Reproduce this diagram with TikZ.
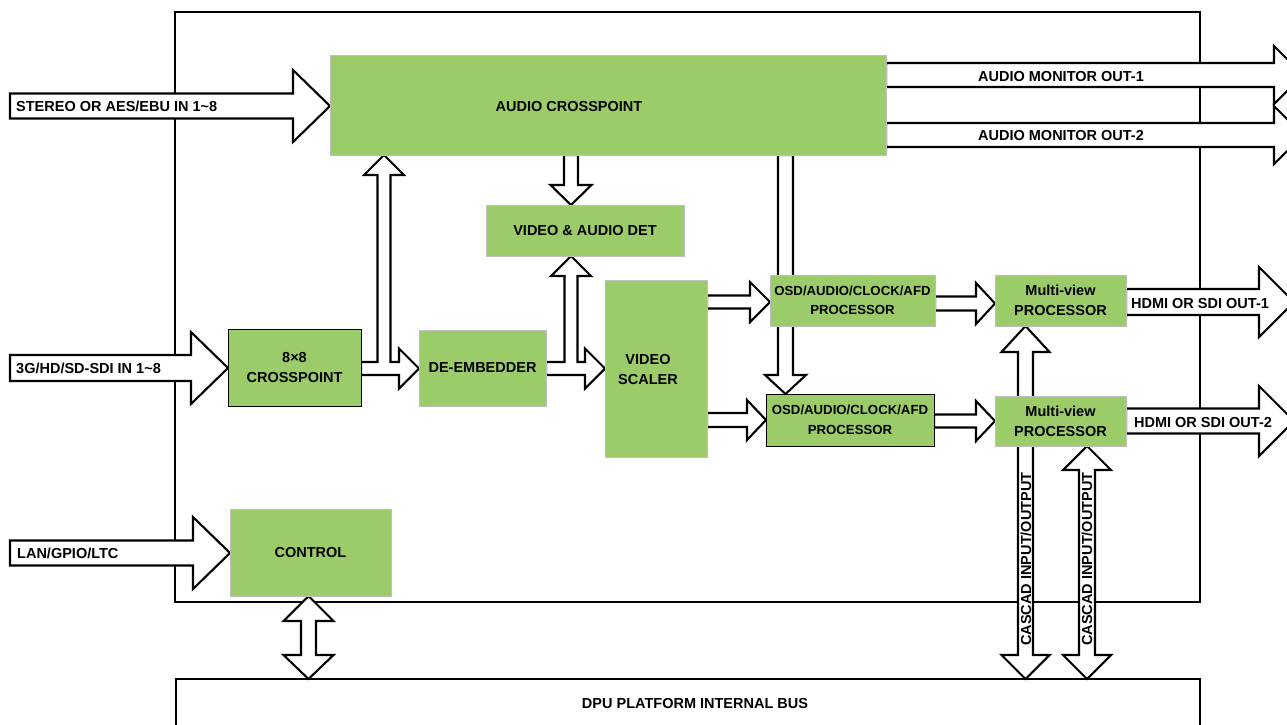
\documentclass[tikz,border=0pt]{standalone}
\usepackage{fontspec}
\setmainfont{Liberation Sans}
\usetikzlibrary{calc}
\definecolor{boxgreen}{RGB}{155,204,105}
\newcommand\diafont{\bfseries\fontsize{14.5}{20}\selectfont}
\newcommand\diafontsm{\bfseries\fontsize{13.2}{19.5}\selectfont}
\pgfdeclarelayer{back}
\pgfdeclarelayer{mid}
\pgfsetlayers{back,mid,main}
\tikzset{
  gbox/.style={fill=boxgreen, draw=black!25, line width=0.4pt, inner sep=0pt, outer sep=0pt, align=center, font=\diafont},
  gboxk/.style={gbox, draw=black, line width=0.8pt},
  blk/.style={draw=black, fill=white, line width=2.1pt, line join=miter},
  lbl/.style={font=\diafont, inner sep=0pt, text height=10.4pt, text depth=0pt},
  frm/.style={draw=black, line width=2pt, inner sep=0pt, outer sep=0pt},
}
% right arrow: tail, tip, body half, head half, head length
\newcommand\RArrow[5]{%
  \path[blk] let \p1=#1, \p2=#2 in (\x1,\y2+#3pt) -- (\x2-#5pt,\y2+#3pt) -- (\x2-#5pt,\y2+#4pt) -- (\x2,\y2) -- (\x2-#5pt,\y2-#4pt) -- (\x2-#5pt,\y2-#3pt) -- (\x1,\y2-#3pt) -- cycle;}
% down arrow: tail (top), tip (bottom), body half, head half, head length
\newcommand\DArrow[5]{%
  \path[blk] let \p1=#1, \p2=#2 in (\x2-#3pt,\y1) -- (\x2-#3pt,\y2+#5pt) -- (\x2-#4pt,\y2+#5pt) -- (\x2,\y2) -- (\x2+#4pt,\y2+#5pt) -- (\x2+#3pt,\y2+#5pt) -- (\x2+#3pt,\y1) -- cycle;}
% vertical double arrow: top tip, bottom tip, body half, head half, top len, bottom len
\newcommand\VDArrow[6]{%
  \path[blk] let \p1=#1, \p2=#2 in (\x1,\y1) -- (\x1+#4pt,\y1-#5pt) -- (\x1+#3pt,\y1-#5pt) -- (\x1+#3pt,\y2+#6pt) -- (\x1+#4pt,\y2+#6pt) -- (\x1,\y2) -- (\x1-#4pt,\y2+#6pt) -- (\x1-#3pt,\y2+#6pt) -- (\x1-#3pt,\y1-#5pt) -- (\x1-#4pt,\y1-#5pt) -- cycle;}
% T arrow: tail (left), right tip, top tip, body half, head half, head length
\newcommand\TArrow[6]{%
  \path[blk] let \p1=#1, \p2=#2, \p3=#3 in (\x1,\y2+#4pt) -- (\x3-#4pt,\y2+#4pt) -- (\x3-#4pt,\y3-#6pt) -- (\x3-#5pt,\y3-#6pt) -- (\x3,\y3) -- (\x3+#5pt,\y3-#6pt) -- (\x3+#4pt,\y3-#6pt) -- (\x3+#4pt,\y2+#4pt) -- (\x2-#6pt,\y2+#4pt) -- (\x2-#6pt,\y2+#5pt) -- (\x2,\y2) -- (\x2-#6pt,\y2-#5pt) -- (\x2-#6pt,\y2-#4pt) -- (\x1,\y2-#4pt) -- cycle;}
\begin{document}
\begin{tikzpicture}[x=1pt,y=-1pt]
\useasboundingbox (0,0) rectangle (1287,724);
\clip (0,0) rectangle (1287,724);

% boxes (main layer)
\node[gbox, minimum width=556pt, minimum height=100pt] (audio) at (608,105) {};
\node[gbox, minimum width=198pt, minimum height=51pt] (det) at (585,230.5) {VIDEO \& AUDIO DET};
\node[gboxk, minimum width=133pt, minimum height=77pt] (xp) at (294.5,367.5) {8×8\\CROSSPOINT};
\node[gbox, minimum width=127pt, minimum height=76pt] (deemb) at (482.5,368) {DE-EMBEDDER};
\node[gbox, minimum width=102pt, minimum height=177pt] (scaler) at (656,368.5) {};
\node[gbox, font=\diafontsm, minimum width=165pt, minimum height=51pt] (osd1) at (852.5,300.5) {OSD/AUDIO/CLOCK/AFD\\PROCESSOR};
\node[gboxk, font=\diafontsm, minimum width=168pt, minimum height=52pt] (osd2) at (850,420) {OSD/AUDIO/CLOCK/AFD\\PROCESSOR};
\node[gbox, minimum width=131pt, minimum height=51pt] (mv1) at (1060.5,300.5) {Multi-view\\PROCESSOR};
\node[gbox, minimum width=131pt, minimum height=50pt] (mv2) at (1060.5,421) {Multi-view\\PROCESSOR};
\node[gbox, minimum width=161pt, minimum height=87pt] (control) at (310.5,552.5) {CONTROL};
\node[lbl] (audlbl) at (569,106) {AUDIO CROSSPOINT};
\node[gbox, fill=none, draw=none, align=center] (sclbl) at (648,369) {VIDEO\\SCALER};

% free ends
\coordinate (stin) at (10,106);
\coordinate (sdiin) at (10,368);
\coordinate (lanin) at (10,553);
\coordinate (amo1) at (1303,75);
\coordinate (amo2) at (1303,135);
\coordinate (hdmi1) at (1294,302);
\coordinate (hdmi2) at (1294,421);
\coordinate (t1) at (384,368.5);
\coordinate (t2) at (571,368.5);
\coordinate (dA) at (571,186);
\coordinate (dB) at (785.5,375);
\coordinate (cb) at (308.5,640);
\coordinate (c1) at (1025.5,600);
\coordinate (c2) at (1087,600);

% frame and bus (back layer)
\begin{pgfonlayer}{back}
\fill[white] (0,0) rectangle (1287,724);
\node[frm, minimum width=1025pt, minimum height=590pt] (frame) at (687.5,307) {};
\node[frm, minimum width=1024pt, minimum height=60pt, anchor=north west] (bus) at (176,679) {};
\end{pgfonlayer}
\node[lbl] (buslbl) at (695,703) {DPU PLATFORM INTERNAL BUS};

% arrows (mid layer)
\begin{pgfonlayer}{mid}
\RArrow{(stin)}{(audio.west |- stin)}{12.5}{36}{37}
\RArrow{(sdiin)}{(xp.west |- sdiin)}{13}{36}{37}
\RArrow{(lanin)}{(control.west |- lanin)}{12.5}{36}{37}
\RArrow{(audio.east |- amo1)}{(amo1)}{12}{29}{29}
\RArrow{(audio.east |- amo2)}{(amo2)}{12}{29}{29}
\DArrow{(audio.south -| dA)}{(det.north -| dA)}{7}{20.5}{20}
\DArrow{(audio.south -| dB)}{(osd2.north -| dB)}{7.5}{20.5}{19}
\TArrow{(xp.east |- t1)}{(deemb.west |- t1)}{(audio.south -| t1)}{6.5}{20}{20}
\TArrow{(deemb.east |- t2)}{(scaler.west |- t2)}{(det.south -| t2)}{6.5}{20}{20}
\RArrow{([yshift=-1.5pt]scaler.east |- osd1)}{([yshift=-1.5pt]osd1.west)}{6.5}{20}{20}
\RArrow{(scaler.east |- osd2)}{(osd2.west)}{7}{20}{19}
\RArrow{(osd1.east)}{([yshift=-3pt]mv1.west)}{7}{20.5}{19}
\RArrow{(osd2.east)}{(mv2.west)}{6.5}{20}{19}
\RArrow{(mv1.east)}{(hdmi1)}{13}{35}{35}
\RArrow{(mv2.east)}{(hdmi2)}{12.5}{35}{35}
\VDArrow{(control.south -| cb)}{(bus.north -| cb)}{7.5}{25}{25}{24}
\VDArrow{(mv1.south -| c1)}{(bus.north -| c1)}{7.5}{24}{26}{24}
\VDArrow{(mv2.south -| c2)}{(bus.north -| c2)}{8}{24}{24}{24}
\end{pgfonlayer}

% arrow labels
\node[lbl, anchor=west] (stlbl) at (16,106) {STEREO OR AES/EBU IN 1\textasciitilde8};
\node[lbl, anchor=west] (sdilbl) at (16,368) {3G/HD/SD-SDI IN 1\textasciitilde8};
\node[lbl, anchor=west] (lanlbl) at (17,553) {LAN/GPIO/LTC};
\node[lbl] (amo1lbl) at (1061,76) {AUDIO MONITOR OUT-1};
\node[lbl] (amo2lbl) at (1061,135) {AUDIO MONITOR OUT-2};
\node[lbl] (h1lbl) at (1200,303) {HDMI OR SDI OUT-1};
\node[lbl] (h2lbl) at (1203,422) {HDMI OR SDI OUT-2};
\node[lbl, rotate=90] (cas1lbl) at (1026,559) {CASCAD INPUT/OUTPUT};
\node[lbl, rotate=90] (cas2lbl) at (1087,559) {CASCAD INPUT/OUTPUT};
\end{tikzpicture}
\end{document}
